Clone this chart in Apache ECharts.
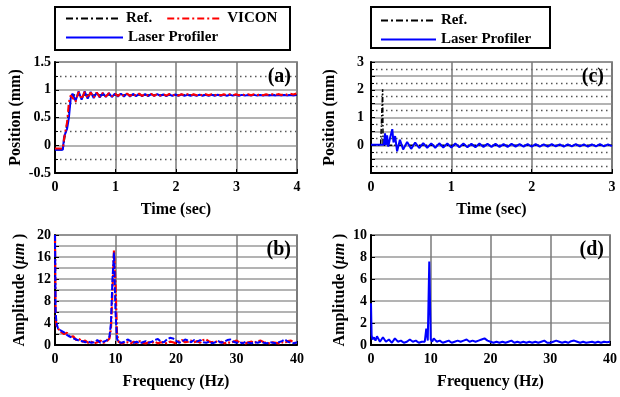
<!DOCTYPE html>
<html><head><meta charset="utf-8">
<script src="https://cdn.jsdelivr.net/npm/echarts@6/dist/echarts.min.js"></script>
<style>html,body{margin:0;padding:0;background:#fff}#c{width:620px;height:397px}</style>
</head><body><div id="c"></div>
<script>
// ---------- (a) step response, time in s, position in mm ----------
const timeHeadA = [0, 0.13, 0.15, 0.2, 0.23, 0.26];
const laserHeadA = [-0.08, -0.08, 0.15, 0.3, 0.5, 0.85];
const viconHeadA = [-0.06, -0.06, 0.12, 0.42, 0.78, 0.9];
const tailStartA = 0.29, tailStepA = 0.05;
const laserTailA = [
 0.93, 0.80, 0.97, 0.82, 0.97, 0.84, 0.96, 0.85, 0.95, 0.86,
 0.94, 0.87, 0.94, 0.87, 0.93, 0.88, 0.93, 0.88, 0.93, 0.88,
 0.925, 0.885, 0.925, 0.885, 0.92, 0.885, 0.92, 0.89, 0.92, 0.89,
 0.915, 0.885, 0.915, 0.89, 0.915, 0.89, 0.915, 0.89, 0.91, 0.89,
 0.91, 0.89, 0.912, 0.892, 0.91, 0.89, 0.91, 0.893, 0.91, 0.892,
 0.908, 0.893, 0.91, 0.894, 0.908, 0.893, 0.908, 0.894, 0.907, 0.895,
 0.908, 0.894, 0.906, 0.895, 0.907, 0.895, 0.906, 0.896, 0.906, 0.895,
 0.905, 0.895, 0.905, 0.896, 0.904];
const viconTailA = [
 0.90, 0.78, 0.96, 0.83, 0.96, 0.85, 0.95, 0.86, 0.95, 0.87,
 0.945, 0.875, 0.94, 0.88, 0.935, 0.885, 0.935, 0.885, 0.93, 0.89,
 0.93, 0.89, 0.93, 0.89, 0.925, 0.895, 0.925, 0.89, 0.925, 0.895,
 0.92, 0.895, 0.925, 0.895, 0.92, 0.895, 0.92, 0.9, 0.92, 0.895,
 0.92, 0.9, 0.918, 0.898, 0.92, 0.9, 0.918, 0.9, 0.92, 0.898,
 0.918, 0.9, 0.92, 0.9, 0.918, 0.9, 0.918, 0.902, 0.92, 0.9,
 0.918, 0.902, 0.92, 0.9, 0.918, 0.902, 0.92, 0.904, 0.922, 0.905,
 0.924, 0.91, 0.928, 0.915, 0.932];
const refTimeA = [0, 0.13, 0.27, 4];
const refA = [-0.08, -0.08, 0.905, 0.905];

// ---------- (c) impulse response ----------
const timeHeadC = [0, 0.16, 0.175, 0.185, 0.2, 0.215, 0.24, 0.265, 0.28, 0.3, 0.325, 0.36, 0.4, 0.45, 0.5, 0.55, 0.6, 0.65, 0.7];
const laserHeadC = [0.02, 0.02, 0.43, 0.0, 0.36, -0.05, 0.3, 0.58, 0.1, 0.33, -0.22, 0.2, -0.15, 0.12, -0.13, 0.1, -0.1, 0.08, -0.09];
const tailStartC = 0.75, tailStepC = 0.05;
const laserTailC = [
 0.07, -0.09, 0.07, -0.08, 0.06, -0.08, 0.06, -0.07, 0.06, -0.07,
 0.05, -0.07, 0.06, -0.06, 0.05, -0.06, 0.05, -0.06, 0.04, -0.06,
 0.05, -0.05, 0.04, -0.05, 0.04, -0.05, 0.04, -0.05, 0.03, -0.05,
 0.04, -0.04, 0.03, -0.05, 0.03, -0.04, 0.04, -0.04, 0.03, -0.05,
 0.03, -0.04, 0.04, -0.04, 0.03, -0.03];
const refTimeC = [0, 0.12, 0.145, 0.15, 3];
const refC = [0, 0, 2.02, 0, 0];

// ---------- (b), (d) spectra: frequency in Hz, amplitude in um ----------
const freq = [0, 0.1, 0.25, 0.5, 0.75, 1, 1.5, 2, 2.5, 3, 3.5, 4, 4.5, 5, 5.5, 6, 6.5, 7, 7.5, 8, 8.5, 9,
 9.25, 9.5, 9.75, 10, 10.25, 10.5, 11, 11.5, 12, 12.5, 13, 13.5, 14, 14.5, 15, 15.5, 16, 16.5, 17, 17.5,
 18, 18.5, 19, 19.5, 20, 20.5, 21, 21.5, 22, 22.5, 23, 23.5, 24, 24.5, 25, 25.5, 26, 26.5, 27, 27.5,
 28, 28.5, 29, 29.5, 30, 30.5, 31, 31.5, 32, 32.5, 33, 33.5, 34, 34.5, 35, 35.5, 36, 36.5, 37, 37.5,
 38, 38.5, 39, 39.5, 40];
const laserB = [20, 6, 4, 3, 2.8, 2.6, 2.3, 1.8, 1.5, 1.2, 1.0, 0.8, 0.7, 0.5, 0.6, 0.4, 0.5, 0.9, 0.4, 0.6, 0.8, 1.5,
 4, 12, 16.8, 6, 1.2, 0.5, 0.4, 0.6, 1.0, 0.7, 0.4, 0.6, 0.3, 0.5, 0.7, 0.4, 0.6, 0.9, 1.1, 0.6,
 0.5, 1.0, 1.3, 1.2, 0.8, 0.4, 0.6, 1.0, 0.8, 0.5, 0.9, 0.6, 0.9, 0.5, 0.4, 0.6, 0.3, 0.5, 0.7, 0.4,
 0.6, 0.9, 1.0, 0.6, 0.4, 0.5, 0.3, 0.6, 0.4, 0.3, 0.5, 0.4, 0.6, 0.4, 0.3, 0.5, 0.4, 0.3, 0.5, 0.7,
 1.0, 0.6, 0.4, 0.3, 0.5];
const viconB = [20, 5, 3.5, 3.2, 2.6, 2.8, 2.0, 2.2, 1.4, 1.6, 0.9, 1.1, 0.6, 0.8, 0.4, 0.6, 0.3, 0.5, 0.8, 0.4, 0.6, 1.2,
 3, 10, 17.2, 11, 2, 0.6, 0.3, 0.4, 0.5, 0.3, 0.6, 0.3, 0.7, 0.4, 0.3, 0.5, 0.4, 0.6, 0.3, 0.5,
 0.4, 0.3, 0.6, 0.5, 0.3, 0.7, 0.9, 0.5, 0.6, 0.8, 0.5, 0.7, 0.4, 0.9, 1.0, 0.6, 0.5, 0.7, 0.4, 0.6,
 0.3, 0.5, 0.4, 0.6, 0.8, 0.5, 0.4, 0.3, 0.5, 0.6, 0.4, 0.7, 0.8, 0.5, 0.4, 0.3, 0.5, 0.4, 0.3, 0.5,
 0.4, 0.7, 0.8, 0.4, 0.3];
const laserD = [3.8, 0.9, 0.5, 0.7, 0.4, 0.8, 0.3, 0.7, 0.3, 0.5, 0.2, 0.6, 0.3, 0.4, 0.2, 0.3, 0.5, 0.3, 0.4, 0.2, 0.3, 0.3,
 1.5, 0.4, 7.6, 0.5, 0.3, 0.6, 0.3, 0.4, 0.2, 0.3, 0.4, 0.2, 0.3, 0.4, 0.3, 0.4, 0.5, 0.3, 0.4, 0.3,
 0.4, 0.5, 0.6, 0.4, 0.3, 0.2, 0.3, 0.2, 0.3, 0.2, 0.3, 0.4, 0.2, 0.3, 0.2, 0.3, 0.2, 0.3, 0.2, 0.3,
 0.2, 0.3, 0.4, 0.2, 0.2, 0.3, 0.4, 0.3, 0.2, 0.3, 0.2, 0.35, 0.4, 0.3, 0.2, 0.3, 0.2, 0.25, 0.3, 0.2,
 0.3, 0.2, 0.3, 0.25, 0.3];

// ---------- helpers ----------
function pairs(xs, ys) { const n = Math.min(xs.length, ys.length); const o = []; for (let i = 0; i < n; i++) o.push([xs[i], ys[i]]); return o; }
function grid(start, step, n) { const o = []; for (let i = 0; i < n; i++) o.push(+(start + i * step).toFixed(4)); return o; }
const timeA = timeHeadA.concat(grid(tailStartA, tailStepA, laserTailA.length));
const laserA = laserHeadA.concat(laserTailA);
const viconA = viconHeadA.concat(viconTailA);
const timeC = timeHeadC.concat(grid(tailStartC, tailStepC, laserTailC.length));
const laserC = laserHeadC.concat(laserTailC);

const FONT = '"Liberation Serif", "DejaVu Serif", serif';
const tick = { fontFamily: FONT, fontWeight: 'bold', fontSize: 14, color: '#000' };
const nameStyle = { fontFamily: FONT, fontWeight: 'bold', fontSize: 16, color: '#000',
  rich: { i: { fontFamily: FONT, fontWeight: 'bold', fontStyle: 'italic', fontSize: 16, color: '#000' } } };
const DASHDOT = [7, 3, 2, 3];
const BLUE = '#0000ff', RED = '#ff0000';

function xAx(gi, max, interval, name, gap) {
  return { gridIndex: gi, type: 'value', min: 0, max: max, interval: interval,
    name: name, nameLocation: 'middle', nameGap: gap, nameTextStyle: nameStyle,
    axisLine: { onZero: false, lineStyle: { color: '#000', width: 2 } },
    axisTick: { inside: true, length: 4, lineStyle: { color: '#000', width: 1 } },
    axisLabel: Object.assign({ margin: 7 }, tick),
    splitLine: { show: true, lineStyle: { color: '#7a7a7a', width: 1.5 } } };
}
function yAx(gi, min, max, interval, name, gap, opts) {
  const o = { gridIndex: gi, type: 'value', min: min, max: max, interval: interval,
    name: name, nameLocation: 'middle', nameGap: gap, nameTextStyle: nameStyle,
    axisLine: { onZero: false, lineStyle: { color: '#000', width: 2 } },
    axisTick: { inside: true, length: 4, lineStyle: { color: '#000', width: 1 } },
    axisLabel: Object.assign({ margin: 4 }, tick),
    splitLine: { show: true, lineStyle: { color: '#9a9a9a', width: 1.5 } } };
  return Object.assign(o, opts || {});
}
const minorOpts = {
  minorTick: { show: true, splitNumber: 2, length: 3, lineStyle: { color: '#000' } },
  minorSplitLine: { show: true, lineStyle: { type: [1.5, 3.5], color: '#555', width: 1.4 } }
};
function line(name, xi, data, color, type, width, z) {
  return { name: name, type: 'line', xAxisIndex: xi, yAxisIndex: xi, data: data, symbol: 'none',
    showSymbol: false, silent: true, z: z || 2,
    lineStyle: { color: color, type: type, width: width }, itemStyle: { color: color } };
}
const gridBox = { show: true, borderColor: '#555', borderWidth: 1.5, backgroundColor: 'transparent' };
const legendText = { fontFamily: FONT, fontWeight: 'bold', fontSize: 15, color: '#000' };
const legendCommon = { padding: 0, itemHeight: 14, textStyle: legendText, selectedMode: false,
  itemStyle: { opacity: 0, color: 'transparent', borderWidth: 0 } };

const chart = echarts.init(document.getElementById('c'), null, { renderer: 'canvas' });
chart.setOption({
  animation: false,
  backgroundColor: '#fff',
  grid: [
    Object.assign({ left: 55, top: 62, width: 242, height: 111 }, gridBox),
    Object.assign({ left: 55, top: 235, width: 242, height: 110 }, gridBox),
    Object.assign({ left: 371, top: 62, width: 241, height: 111 }, gridBox),
    Object.assign({ left: 371, top: 235, width: 241, height: 110 }, gridBox)
  ],
  xAxis: [
    xAx(0, 4, 1, 'Time (sec)', 29),
    xAx(1, 40, 10, 'Frequency (Hz)', 29),
    xAx(2, 3, 1, 'Time (sec)', 29),
    xAx(3, 40, 10, 'Frequency (Hz)', 29)
  ],
  yAxis: [
    yAx(0, -0.5, 1.5, 0.5, 'Position (mm)', 31, minorOpts),
    yAx(1, 0, 20, 2, 'Amplitude ({i|μm} )', 27, { axisLabel: Object.assign({ margin: 4, formatter: v => (v % 4 === 0 ? String(v) : '') }, tick) }),
    yAx(2, -1, 3, 0.5, 'Position (mm)', 33, Object.assign({ axisLabel: Object.assign({ margin: 7, formatter: v => (Number.isInteger(v) && v >= 0 ? String(v) : '') }, tick) }, minorOpts)),
    yAx(3, 0, 10, 2, 'Amplitude ({i|μm} )', 23)
  ],
  legend: [
    Object.assign({ left: 65, top: 11, itemWidth: 55, itemGap: 14, orient: 'horizontal', data: ['Ref.', 'VICON'] }, legendCommon),
    Object.assign({ left: 65, top: 30, itemWidth: 57, itemGap: 12, orient: 'horizontal', data: ['Laser Profiler'] }, legendCommon),
    Object.assign({ left: 380, top: 13, itemWidth: 55, itemGap: 4, orient: 'vertical', data: ['Ref.', 'Laser Profiler'] }, legendCommon)
  ],
  graphic: [
    { type: 'rect', shape: { x: 55, y: 7, width: 235, height: 43 }, style: { fill: 'none', stroke: '#000', lineWidth: 2 }, z: 10 },
    { type: 'rect', shape: { x: 371, y: 7, width: 179, height: 41 }, style: { fill: 'none', stroke: '#000', lineWidth: 2 }, z: 10 },
    { type: 'text', x: 291, y: 77, style: { text: '(a)', font: 'bold 20px "Liberation Serif"', fill: '#000', textAlign: 'right', textVerticalAlign: 'middle' }, z: 10 },
    { type: 'text', x: 291, y: 250, style: { text: '(b)', font: 'bold 20px "Liberation Serif"', fill: '#000', textAlign: 'right', textVerticalAlign: 'middle' }, z: 10 },
    { type: 'text', x: 604, y: 77, style: { text: '(c)', font: 'bold 20px "Liberation Serif"', fill: '#000', textAlign: 'right', textVerticalAlign: 'middle' }, z: 10 },
    { type: 'text', x: 604, y: 250, style: { text: '(d)', font: 'bold 20px "Liberation Serif"', fill: '#000', textAlign: 'right', textVerticalAlign: 'middle' }, z: 10 }
  ],
  series: [
    line('Ref.', 0, pairs(refTimeA, refA), '#000', DASHDOT, 1.5, 2),
    line('Laser Profiler', 0, pairs(timeA, laserA), BLUE, 'solid', 2, 3),
    line('VICON', 0, pairs(timeA, viconA), RED, DASHDOT, 2, 4),
    line('VICON', 1, pairs(freq, viconB), RED, [8, 2, 2, 2], 2.2, 3),
    line('Laser Profiler', 1, pairs(freq, laserB), BLUE, [6, 2], 2, 4),
    line('Ref.', 2, pairs(refTimeC, refC), '#000', [5, 2, 1.5, 2], 1.5, 2),
    line('Laser Profiler', 2, pairs(timeC, laserC), BLUE, 'solid', 2, 3),
    line('Laser Profiler', 3, pairs(freq, laserD), BLUE, 'solid', 2, 3)
  ]
});
</script></body></html>
